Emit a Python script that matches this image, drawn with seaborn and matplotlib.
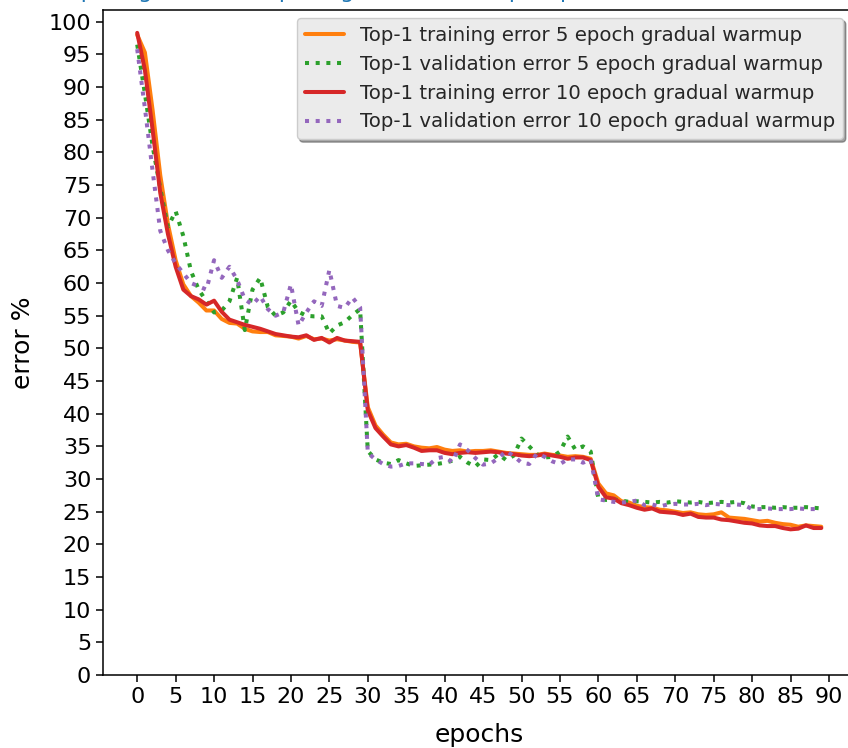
import numpy as np
import pandas as pd
import matplotlib
matplotlib.use("Agg")
import matplotlib.pyplot as plt
import seaborn as sns

epochs = list(range(90))

train_5 = [98.0, 95.3, 86.5, 76.5, 69.0, 63.5, 59.8, 58.0, 57.0, 55.8,
           55.8, 54.5, 53.9, 53.8, 53.0, 52.6, 52.5, 52.5, 52.0, 51.9,
           51.8, 51.5, 51.9, 51.4, 51.5, 51.2, 51.4, 51.2, 51.0, 50.9,
           41.0, 38.2, 36.8, 35.6, 35.3, 35.4, 35.0, 34.8, 34.7, 34.9,
           34.5, 34.3, 34.4, 34.2, 34.3, 34.3, 34.4, 34.2, 34.0, 33.9,
           33.8, 33.7, 33.7, 33.9, 33.7, 33.6, 33.4, 33.5, 33.4, 33.1,
           29.3, 27.8, 27.5, 26.6, 26.4, 25.9, 25.7, 25.6, 25.3, 25.2,
           25.0, 24.8, 24.9, 24.6, 24.5, 24.6, 24.9, 24.1, 24.0, 23.9,
           23.7, 23.5, 23.6, 23.3, 23.1, 23.0, 22.7, 22.9, 22.8, 22.7]

val_5 = [96.5, 89.0, 81.0, 74.5, 68.6, 71.0, 67.2, 61.8, 59.0, 57.2,
         55.5, 55.8, 57.2, 60.8, 52.8, 59.0, 60.8, 56.3, 55.0, 55.5,
         57.3, 55.6, 55.0, 54.9, 54.9, 52.3, 53.5, 54.0, 55.1, 56.0,
         34.3, 33.0, 32.5, 32.3, 32.9, 32.4, 32.0, 32.1, 32.2, 32.3,
         32.5, 32.8, 33.4, 32.5, 31.9, 33.0, 32.9, 33.8, 32.9, 33.6,
         36.2, 35.0, 33.8, 33.3, 33.4, 34.2, 36.5, 34.5, 35.0, 34.2,
         27.0, 26.8, 26.9, 26.7, 26.5, 26.6, 26.5, 26.4, 26.5, 26.4,
         26.6, 26.5, 26.4, 26.5, 26.3, 26.4, 26.5, 26.4, 26.5, 26.3,
         25.8, 25.7, 25.7, 25.6, 25.7, 25.6, 25.6, 25.7, 25.6, 25.5]

train_10 = [98.3, 92.6, 83.5, 73.8, 67.5, 62.5, 59.0, 58.0, 57.5, 56.7,
            57.3, 55.6, 54.4, 54.0, 53.6, 53.3, 53.0, 52.6, 52.2, 52.0,
            51.8, 51.7, 52.0, 51.3, 51.6, 50.9, 51.6, 51.2, 51.1, 51.0,
            40.5, 37.8, 36.5, 35.3, 35.0, 35.2, 34.8, 34.3, 34.4, 34.4,
            34.0, 33.8, 34.0, 34.1, 34.0, 34.1, 34.2, 34.1, 33.9, 33.8,
            33.6, 33.5, 33.6, 33.8, 33.6, 33.4, 33.1, 33.3, 33.3, 32.9,
            28.8, 27.2, 27.0, 26.3, 26.0, 25.6, 25.3, 25.5, 25.0, 24.9,
            24.8, 24.5, 24.7, 24.2, 24.1, 24.1, 23.8, 23.7, 23.5, 23.3,
            23.2, 22.9, 22.8, 22.8, 22.5, 22.3, 22.4, 22.9, 22.5, 22.5]

val_10 = [95.8, 86.8, 77.2, 68.0, 65.0, 63.0, 61.5, 60.0, 59.5, 59.0,
          63.5, 60.8, 62.5, 60.5, 57.5, 56.7, 58.0, 56.0, 55.0, 55.5,
          59.8, 53.5, 55.5, 57.2, 56.5, 62.0, 56.5, 56.2, 57.8, 56.3,
          34.0, 33.0, 32.3, 31.9, 32.0, 32.4, 32.4, 32.3, 32.2, 33.2,
          33.4, 32.6, 35.3, 34.4, 33.2, 32.2, 32.4, 33.2, 34.3, 33.5,
          32.5, 32.3, 33.9, 33.4, 32.7, 32.3, 33.0, 33.0, 32.5, 33.0,
          26.9, 26.7, 26.5, 26.4, 26.5, 26.7, 26.0, 26.1, 25.8, 26.1,
          26.2, 26.1, 26.1, 26.2, 26.0, 26.2, 26.1, 26.0, 26.1, 26.0,
          25.4, 25.4, 25.5, 25.4, 25.4, 25.4, 25.5, 25.4, 25.4, 25.4]

labels = ["Top-1 training error 5 epoch gradual warmup",
          "Top-1 validation error 5 epoch gradual warmup",
          "Top-1 training error 10 epoch gradual warmup",
          "Top-1 validation error 10 epoch gradual warmup"]
colors = ["#ff7f0e", "#2ca02c", "#d62728", "#9467bd"]
styles = ["-", ":", "-", ":"]
series = [train_5, val_5, train_10, val_10]

x_ticks = list(range(0, 91, 5))
y_ticks = list(range(0, 101, 5))

title_text = "Comparing 5 and 10 epoch gradual warmup: top-1 error of ResNet-50 training"

sns.set_style("ticks")
plt.rcParams['font.family'] = ['DejaVu Sans']

fig = plt.figure(figsize=(8.48, 7.48), dpi=100)
W, H = 848, 748
ax = fig.add_axes([103 / W, 1 - 675 / H, (855.5 - 103) / W, (675 - 10) / H])

df = pd.DataFrame({"epoch": epochs})
for lab, col, ls, ys in zip(labels, colors, styles, series):
    df[lab] = ys
    sns.lineplot(data=df, x="epoch", y=lab, ax=ax, color=col, linestyle=ls,
                 linewidth=2.9, label=lab)

ax.set_xlim(-4.45, 93.45)
ax.set_ylim(0, 101.8)
ax.set_xticks(x_ticks)
ax.set_yticks(y_ticks)
ax.tick_params(axis="both", labelsize=16, length=5, width=1.1, color="black",
               direction="out", labelcolor="black")
for sp in ax.spines.values():
    sp.set_color("black")
    sp.set_linewidth(1.1)
ax.set_xlabel("epochs", fontsize=18, color="black", labelpad=12)
ax.set_ylabel("error %", fontsize=18, color="black", labelpad=10)

# title sits just above the top edge of the image; only its descenders show
fig.text(466 / W, 1 + 2 / H, title_text, fontsize=16, color="#1f77b4",
         ha="center", va="baseline")

leg = ax.legend(loc="upper right", bbox_to_anchor=(0.9834, 0.988),
                borderaxespad=0, fontsize=14.2, shadow=True, fancybox=True,
                facecolor="#EBEBEB", edgecolor="#CCCCCC", framealpha=1.0)

fig.savefig("out.png", dpi=100)
